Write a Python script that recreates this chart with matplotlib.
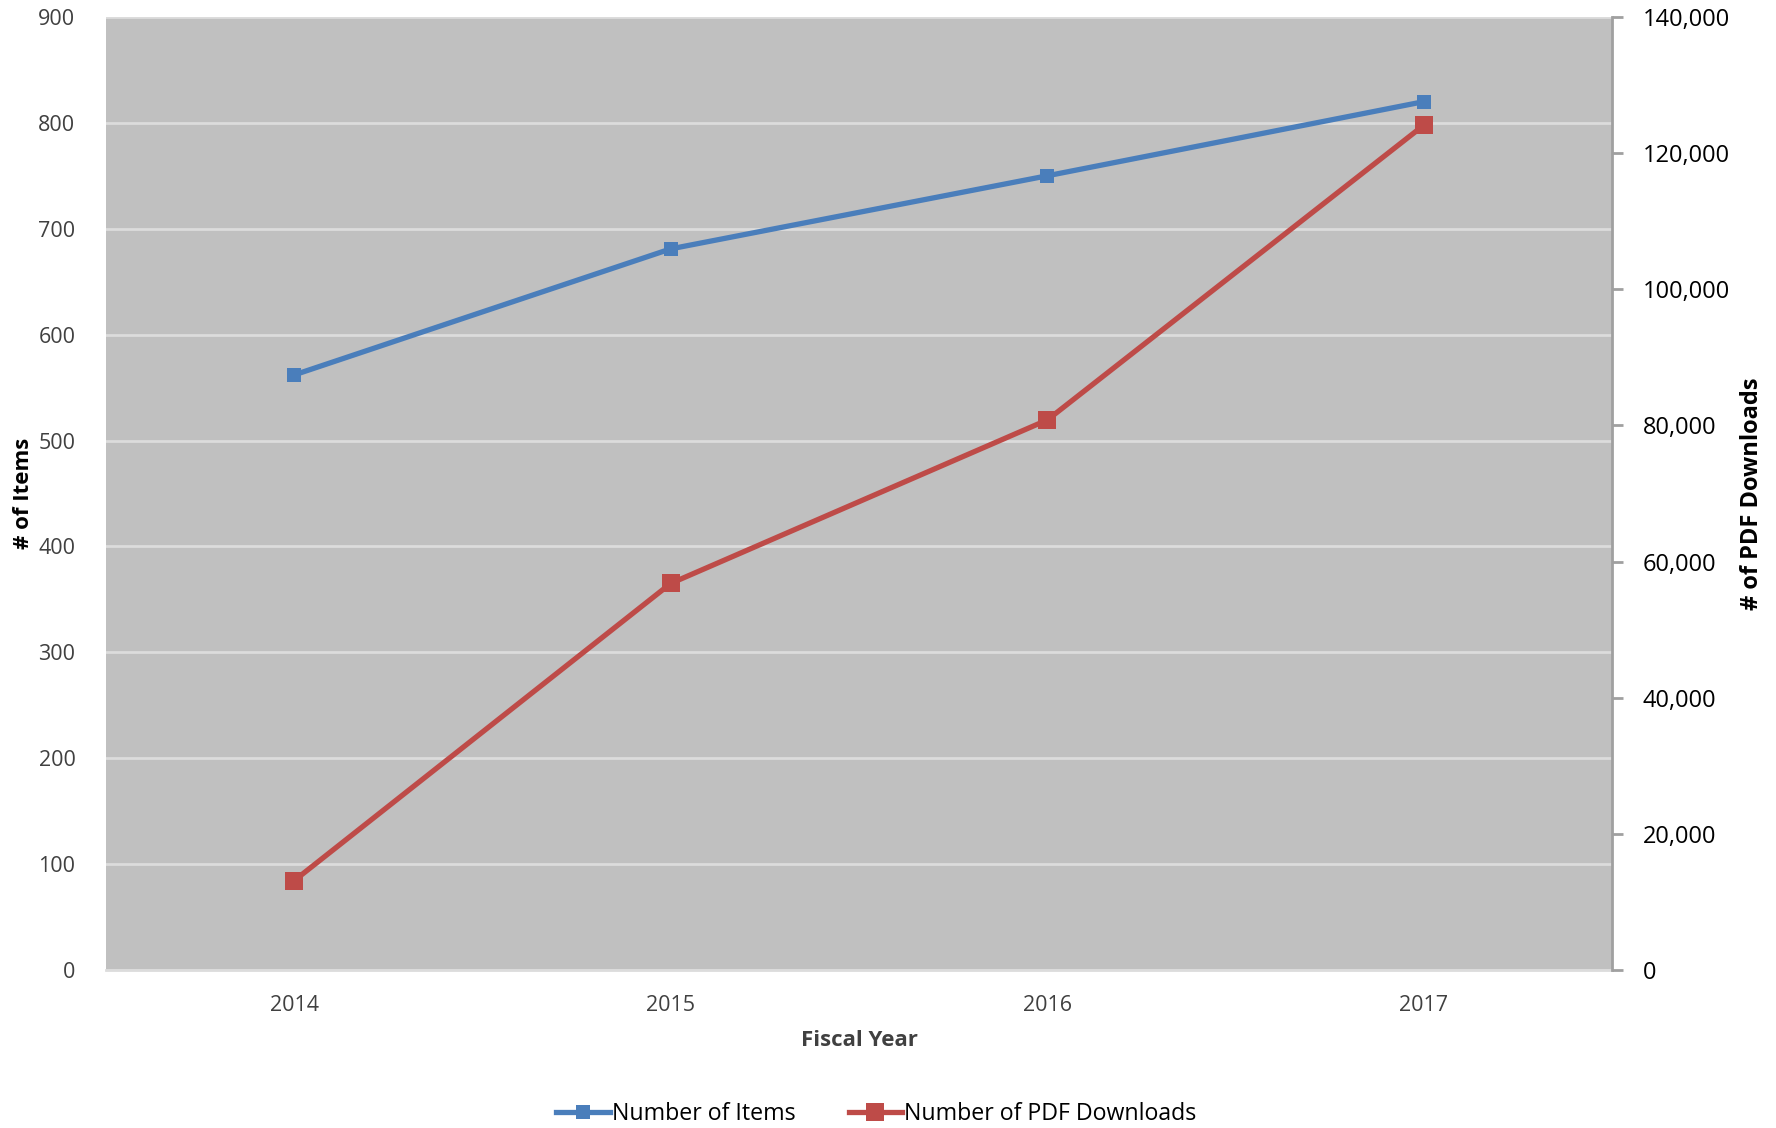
import matplotlib
matplotlib.use("Agg")
import matplotlib.pyplot as plt
from matplotlib.ticker import FuncFormatter

years = ["2014", "2015", "2016", "2017"]
items = [562, 681, 750, 820]
downloads = [13150, 56800, 80800, 124100]

plt.rcParams['font.family'] = ['Open Sans', 'DejaVu Sans']

fig = plt.figure(figsize=(17.76, 11.28), dpi=100)
ax = fig.add_axes([0.0597, 0.140, 0.848, 0.845])
ax.set_facecolor('#c0c0c0')
ax2 = ax.twinx()

x = list(range(len(years)))
l1, = ax.plot(x, items, color='#4a7ebb', lw=3.8, marker='s', ms=10.5,
              markeredgewidth=0, label='Number of Items', zorder=3)
l2, = ax2.plot(x, downloads, color='#be4b48', lw=3.8, marker='s', ms=13.5,
               markeredgewidth=0, label='Number of PDF Downloads', zorder=3)

ax.set_xlim(-0.5, 3.5)
ax.set_ylim(0, 900)
ax.set_yticks(range(0, 901, 100))
ax2.set_ylim(0, 140000)
ax2.set_yticks(range(0, 140001, 20000))
ax2.yaxis.set_major_formatter(FuncFormatter(lambda v, p: f"{int(v):,}"))
ax.set_xticks(x)
ax.set_xticklabels(years)

ax.grid(axis='y', color='#dcdcdc', lw=2)
ax.set_axisbelow(True)

for s in ['left', 'top', 'right']:
    ax.spines[s].set_visible(False)
ax.spines['bottom'].set_color('#dcdcdc')
ax.spines['bottom'].set_linewidth(2)
for s in ['left', 'top', 'bottom']:
    ax2.spines[s].set_visible(False)
ax2.spines['right'].set_color('#a0a0a0')
ax2.spines['right'].set_linewidth(2)

ax.tick_params(axis='y', length=0, labelsize=15.5, labelcolor='#404040', pad=22)
ax.tick_params(axis='x', length=0, labelsize=15.5, labelcolor='#404040', pad=18)
ax2.tick_params(axis='y', length=8, width=2, color='#a0a0a0', labelsize=17,
                labelcolor='black', pad=14)

ax.set_xlabel('Fiscal Year', fontsize=16, fontweight='bold', color='#404040')
ax.xaxis.set_label_coords(0.5, -0.063)
ax.set_ylabel('# of Items', fontsize=16, fontweight='bold', color='black')
ax.yaxis.set_label_coords(-0.048, 0.5)
ax2.set_ylabel('# of PDF Downloads', fontsize=17, fontweight='bold', color='black')
ax2.yaxis.set_label_coords(1.085, 0.5)

fig.legend(handles=[l1, l2], loc='center', bbox_to_anchor=(0.4935, 0.0125),
           ncol=2, frameon=False, fontsize=16.7, handlelength=2.3,
           handletextpad=0.1, columnspacing=2.3)

fig.savefig('out.png', dpi=100)
